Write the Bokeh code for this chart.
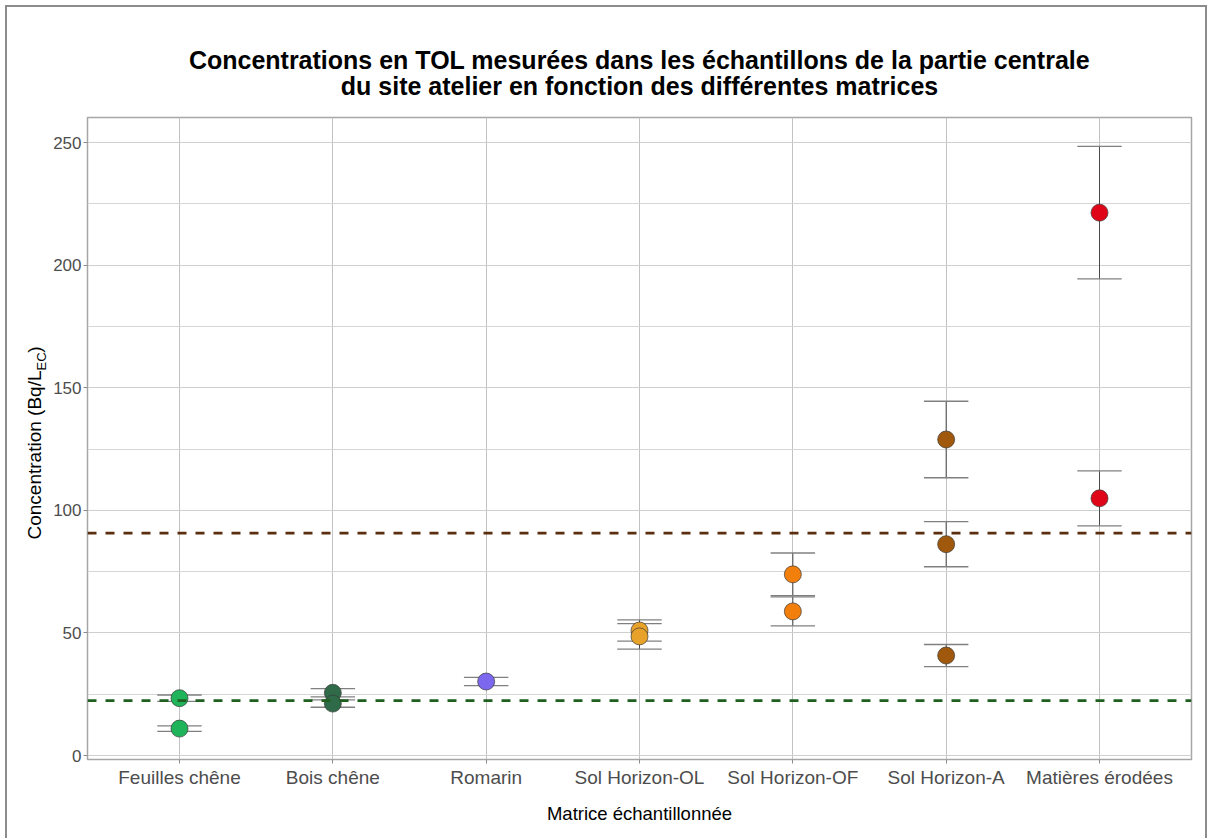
from math import pi
from bokeh.plotting import figure
from bokeh.layouts import column, row
from bokeh.models import Span, FixedTicker, Range1d, ColumnDataSource
from bokeh.core.properties import value
from bokeh.embed import file_html
from bokeh.resources import INLINE

# ---------------- data ----------------
categories = ["Feuilles chêne", "Bois chêne", "Romarin", "Sol Horizon-OL",
              "Sol Horizon-OF", "Sol Horizon-A", "Matières érodées"]
category_colors = ["#1fb45a", "#2f6b48", "#7b68ee", "#e8a22a",
                   "#f27f0c", "#a0590c", "#e0061a"]

sample_matrix = ["Feuilles chêne", "Feuilles chêne",
                 "Bois chêne", "Bois chêne",
                 "Romarin",
                 "Sol Horizon-OL", "Sol Horizon-OL",
                 "Sol Horizon-OF", "Sol Horizon-OF",
                 "Sol Horizon-A", "Sol Horizon-A", "Sol Horizon-A",
                 "Matières érodées", "Matières érodées"]
concentration = [23.4, 11.0,
                 25.6, 21.2,
                 30.2,
                 51.0, 48.6,
                 73.9, 58.8,
                 128.9, 86.2, 40.8,
                 221.4, 104.9]
uncertainty = [1.3, 1.1,
               1.7, 1.5,
               1.7,
               4.3, 5.2,
               8.7, 5.9,
               15.6, 9.2, 4.5,
               27.0, 11.2]

threshold_low = 22.4
threshold_high = 90.7
y_ticks = [0, 50, 100, 150, 200, 250]

title_line1 = "Concentrations en TOL mesurées dans les échantillons de la partie centrale"
title_line2 = "du site atelier en fonction des différentes matrices"
x_title = "Matrice échantillonnée"
y_title_main = "Concentration (Bq/L"
y_title_sub = "EC"
y_title_end = ")"

# ---------------- derived ----------------
xpos = [categories.index(m) + 1 for m in sample_matrix]
cols = [category_colors[categories.index(m)] for m in sample_matrix]
lo = [c - u for c, u in zip(concentration, uncertainty)]
hi = [c + u for c, u in zip(concentration, uncertainty)]
cap_half = 0.145
src = ColumnDataSource(dict(
    x=xpos, y=concentration, lo=lo, hi=hi, color=cols,
    xl=[x - cap_half for x in xpos], xr=[x + cap_half for x in xpos],
))

FONT = "Liberation Sans"
X0, X1 = 0.4, 7.6
Y0, Y1 = -1.6, 260.2

# ---------------- layout geometry (page pixels) ----------------
MARGIN, BORDER = 5, 2
W_TOTAL, H_TOTAL = 1198, 831
TITLE_H = 95          # height of the title strip
YLAB_W = 41           # width of the y-title strip
ox = MARGIN + BORDER
oy = MARGIN + BORDER
FL, FR, FT, FB = 87, 1191, 117, 759   # plot frame on the page

main_w = W_TOTAL - YLAB_W
main_h = H_TOTAL - TITLE_H
title_bottom = oy + TITLE_H
strip_bottom = oy + H_TOTAL


def blank(w, h, xr, yr):
    f = figure(width=w, height=h, output_backend="svg", toolbar_location=None,
               title=None, x_range=xr, y_range=yr,
               x_axis_type=None, y_axis_type=None, min_border=0,
               min_border_left=0, min_border_right=0, min_border_top=0,
               min_border_bottom=0)
    f.outline_line_color = None
    f.background_fill_color = "white"
    f.border_fill_color = "white"
    return f


# title strip
tf = blank(W_TOTAL, TITLE_H, Range1d(0, W_TOTAL), Range1d(0, TITLE_H))
tf.text(x=[(FL + FR) / 2 - ox] * 2, y=[title_bottom - 59, title_bottom - 85],
        text=[title_line1, title_line2], text_align="center",
        text_baseline="alphabetic", text_font=value(FONT),
        text_font_size="25px", text_font_style="bold", text_color="black")

# y-title strip: its frame is aligned with the main frame (page y FT..FB),
# so its y range is expressed directly in (negated) page pixels
yf = blank(YLAB_W, main_h, Range1d(0, YLAB_W), Range1d(-FB, -FT))
for txt, px, py, size in [(y_title_main, 33.5, 454.5, "19px"),
                          (y_title_sub, 40.5, 361, "13px"),
                          (y_title_end, 33.5, 349, "19px")]:
    yf.text(x=[px - ox], y=[-py], text=[txt], angle=pi / 2,
            text_align="center", text_baseline="middle", text_font=value(FONT),
            text_font_size=size, text_color="black")

# main plot
p = figure(width=main_w, height=main_h, output_backend="svg", toolbar_location=None,
           x_range=Range1d(X0, X1), y_range=Range1d(Y0, Y1), title=None,
           min_border_left=FL - (ox + YLAB_W), min_border_right=ox + W_TOTAL - FR,
           min_border_top=FT - title_bottom, min_border_bottom=strip_bottom - FB)
p.background_fill_color = "white"
p.border_fill_color = "white"
p.outline_line_color = "#a6a6a6"
p.outline_line_width = 1.5

p.xaxis.ticker = FixedTicker(ticks=list(range(1, len(categories) + 1)))
p.xaxis.major_label_overrides = {i + 1: c for i, c in enumerate(categories)}
minor = [(a + b) / 2 for a, b in zip(y_ticks[:-1], y_ticks[1:])]
p.yaxis.ticker = FixedTicker(ticks=y_ticks, minor_ticks=minor)

for ax in (p.xaxis[0], p.yaxis[0]):
    ax.axis_line_color = None
    ax.major_tick_line_color = "#8a8a8a"
    ax.major_tick_out = 4
    ax.major_tick_in = 0
    ax.minor_tick_line_color = None
    ax.major_label_text_font = FONT
    ax.major_label_text_color = "#4d4d4d"

p.xaxis.major_label_text_font_size = "19px"
p.yaxis.major_label_text_font_size = "17px"
p.xaxis.major_label_standoff = 3
p.yaxis.major_label_standoff = 2

p.xaxis.axis_label = x_title
p.xaxis.axis_label_text_font = FONT
p.xaxis.axis_label_text_font_size = "18.5px"
p.xaxis.axis_label_text_font_style = "normal"
p.xaxis.axis_label_text_color = "black"
p.xaxis.axis_label_standoff = 12

p.xgrid.grid_line_color = "#c2c2c2"
p.ygrid.grid_line_color = "#cfcfcf"
p.ygrid.minor_grid_line_color = "#d6d6d6"

p.add_layout(Span(location=threshold_low, dimension="width", line_color="#1f5f1f",
                  line_width=2.6, line_dash="9 9"))
p.add_layout(Span(location=threshold_high, dimension="width", line_color="#5a2e0e",
                  line_width=2.6, line_dash="9 9"))

p.segment(x0="x", y0="lo", x1="x", y1="hi", source=src, line_color="#4a4a4a", line_width=1)
p.segment(x0="xl", y0="lo", x1="xr", y1="lo", source=src, line_color="#808080", line_width=1.3)
p.segment(x0="xl", y0="hi", x1="xr", y1="hi", source=src, line_color="#808080", line_width=1.3)

p.scatter(x="x", y="y", source=src, size=17, fill_color="color",
          line_color="#3a3a3a", line_width=0.7)

layout = column(tf, row(yf, p, spacing=0), spacing=0)
layout.styles = {"margin-left": f"{MARGIN}px", "margin-top": f"{MARGIN}px",
                 "border-left": f"{BORDER}px solid #8c8c8c",
                 "border-top": f"{BORDER}px solid #8c8c8c",
                 "border-right": f"{BORDER}px solid #8c8c8c"}

open("out.html", "w").write(file_html(layout, INLINE))
